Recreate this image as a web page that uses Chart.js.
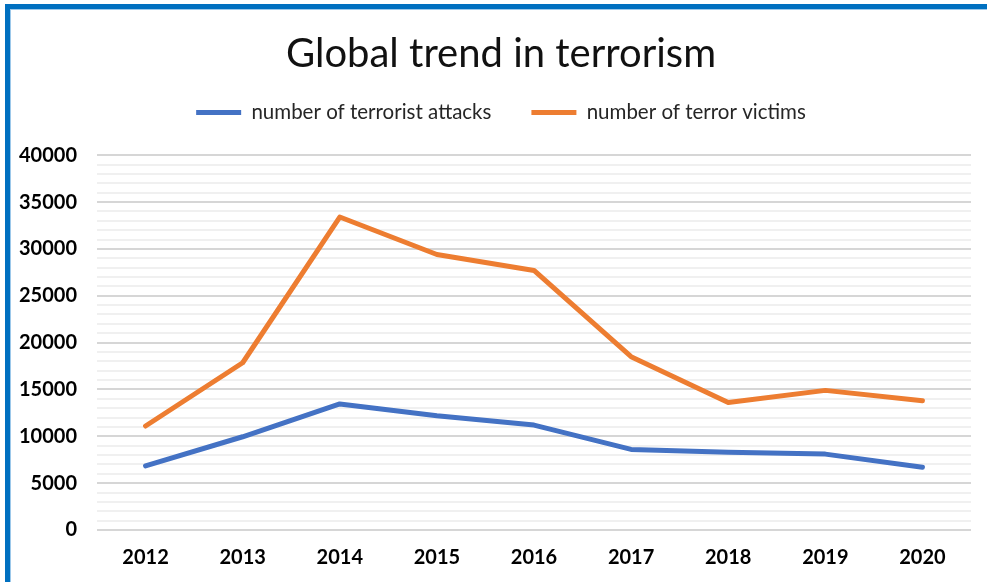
<!DOCTYPE html>
<html>
<head>
<meta charset="utf-8">
<script src="https://cdn.jsdelivr.net/npm/chart.js@4/dist/chart.umd.min.js"></script>
<style>
  html, body { margin: 0; padding: 0; background: #fff; }
  body { width: 987px; height: 582px; position: relative; overflow: hidden; }
  #frame {
    position: absolute; left: 5px; top: 4px; width: 1000px; height: 600px;
    border-left: 5px solid #0070C0; border-top: 5px solid #0070C0;
    box-shadow: inset 1px 1px 0 #9cc8ea;
  }
  #wrap { position: absolute; left: 10px; top: 9px; width: 977px; height: 573px; }
</style>
</head>
<body>
<div id="frame"></div>
<div id="wrap"><canvas id="chart" width="977" height="573"></canvas></div>
<script>
// Years on the horizontal axis
const years = ['2012', '2013', '2014', '2015', '2016', '2017', '2018', '2019', '2020'];

// Yearly counts
const terroristAttacks = [6850, 9950, 13450, 12200, 11200, 8600, 8300, 8100, 6700];
const terrorVictims    = [11100, 17850, 33400, 29400, 27700, 18500, 13600, 14900, 13800];

// Value axis: labelled every 5000, light rules every 1000
const yMin = 0;
const yMax = 40000;
const yStep = 1000;
const yLabelEvery = 5000;

const seriesNames = ['number of terrorist attacks', 'number of terror victims'];
const seriesColors = ['#4472C4', '#ED7D31'];

const lineSeries = (label, data, color) => ({
  label, data,
  borderColor: color,
  backgroundColor: color,
  borderWidth: 5,
  borderCapStyle: 'round',
  borderJoinStyle: 'round',
  pointRadius: 0,
  pointHoverRadius: 0,
  tension: 0,
  fill: false,
  yAxisID: 'y'
});

new Chart(document.getElementById('chart'), {
  type: 'line',
  data: {
    labels: years,
    datasets: [
      lineSeries(seriesNames[0], terroristAttacks, seriesColors[0]),
      lineSeries(seriesNames[1], terrorVictims, seriesColors[1])
    ]
  },
  options: {
    responsive: false,
    animation: false,
    events: [],
    layout: { padding: { top: 0, left: 5, right: 0, bottom: 0 } },
    plugins: {
      title: {
        display: true,
        text: 'Global trend in terrorism',
        color: '#111',
        font: { family: 'Lato', size: 40, weight: 'normal', lineHeight: 0.405 },
        padding: { top: 37, bottom: 0 }
      },
      legend: {
        display: true,
        position: 'top',
        labels: {
          usePointStyle: true,
          pointStyle: 'line',
          pointStyleWidth: 45,
          padding: 40,
          color: '#262626',
          font: { family: 'Lato', size: 20.5 }
        }
      },
      // blank band between the legend and the plot
      subtitle: {
        display: true,
        text: '',
        weight: 500,
        padding: 0,
        font: { size: 22.5, lineHeight: 1 }
      },
      tooltip: { enabled: false }
    },
    scales: {
      x: {
        offset: true,
        grid: { display: false, drawTicks: false },
        border: { display: false },
        ticks: {
          color: '#000',
          padding: 16,
          maxRotation: 0,
          font: { family: 'Lato', size: 20, weight: 'bold' }
        },
        afterFit(scale) { scale.height = 52; }
      },
      y: {
        position: 'left',
        min: yMin,
        max: yMax,
        border: { display: false },
        grid: {
          drawTicks: false,
          color: (c) => (c.tick && c.tick.value % yLabelEvery === 0) ? '#d6d6d6' : '#f0f0f0',
          lineWidth: 2
        },
        ticks: {
          stepSize: yStep,
          autoSkip: false,
          padding: 20,
          color: '#000',
          font: { family: 'Lato', size: 20, weight: 'bold' },
          callback: (v) => (v % yLabelEvery === 0) ? String(v) : ''
        },
        afterFit(scale) { scale.width = 82; }
      },
      // empty right-hand margin of the plot
      yRight: {
        type: 'linear',
        position: 'right',
        grid: { display: false, drawTicks: false },
        border: { display: false },
        ticks: { display: false },
        afterFit(scale) { scale.width = 16; }
      }
    }
  }
});
</script>
</body>
</html>
